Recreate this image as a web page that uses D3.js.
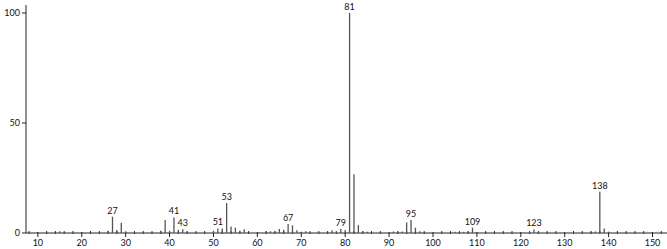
<!DOCTYPE html>
<html>
<head>
<meta charset="utf-8">
<script src="https://cdn.jsdelivr.net/npm/d3@7"></script>
<style>
  body { margin: 0; background: #fff; }
  text { font-family: "Lato", "DejaVu Sans", sans-serif; font-size: 9px; fill: #111; }
</style>
</head>
<body>
<div id="cont"></div>
<script>
// m/z values and relative intensities
var mz =        [15, 26, 27, 28, 29, 30, 38, 39, 40, 41, 42, 43, 44, 50, 51, 52, 53, 54, 55, 56, 57,
                 62, 63, 64, 65, 66, 67, 68, 69, 70, 71, 77, 78, 79, 80, 81, 82, 83, 84, 85,
                 91, 92, 93, 94, 95, 96, 97, 105, 107, 108, 109, 122, 123, 124, 136, 137, 138, 139, 140];
var intensity = [0.8, 1.0, 7.4, 1.4, 4.7, 0.8, 1.0, 5.9, 1.0, 7.1, 1.5, 1.7, 0.7, 1.0, 2.1, 2.1, 13.6, 2.9, 2.4, 1.0, 1.7,
                 0.8, 0.8, 0.8, 1.8, 1.5, 4.1, 3.5, 1.2, 0.6, 0.8, 1.3, 0.8, 1.8, 1.4, 100, 26.7, 3.6, 0.8, 0.6,
                 0.7, 0.7, 0.7, 4.8, 5.9, 2.4, 0.8, 0.6, 0.6, 0.7, 2.4, 0.5, 1.6, 0.5, 0.7, 0.7, 18.8, 2.1, 0.6];
var labelled = [27, 41, 43, 51, 53, 67, 79, 81, 95, 109, 123, 138];
var xTicks = [10, 20, 30, 40, 50, 60, 70, 80, 90, 100, 110, 120, 130, 140, 150];
var yTicks = [0, 50, 100];

var peaks = mz.map(function(m, i) { return {mz: m, v: intensity[i]}; });

var svg = d3.select("#cont").append("svg")
    .attr("width", 667)
    .attr("height", 249);

var x = d3.scaleLinear().domain([7.3, 153.3]).range([26, 667]);
var y = d3.scaleLinear().domain([0, 100]).range([233, 13]);

// x axis
svg.append("line")
    .attr("x1", x.range()[0]).attr("x2", x.range()[1])
    .attr("y1", y(0)).attr("y2", y(0))
    .attr("stroke", "#222").attr("stroke-width", 1);

var minor = d3.range(8, 154, 2).filter(function(v) { return v % 10 !== 0; });
svg.selectAll(".minor").data(minor).enter().append("line")
    .attr("class", "minor")
    .attr("x1", function(d) { return x(d); }).attr("x2", function(d) { return x(d); })
    .attr("y1", y(0) - 2).attr("y2", y(0) + 1)
    .attr("stroke", "#333");

svg.selectAll(".major").data(xTicks).enter().append("line")
    .attr("class", "major")
    .attr("x1", function(d) { return x(d); }).attr("x2", function(d) { return x(d); })
    .attr("y1", y(0) - 1).attr("y2", y(0) + 4)
    .attr("stroke", "#222");

svg.selectAll(".xlab").data(xTicks).enter().append("text")
    .attr("class", "xlab")
    .attr("x", function(d) { return x(d); })
    .attr("y", 246)
    .attr("text-anchor", "middle")
    .text(function(d) { return d; });

// y axis
svg.append("line")
    .attr("x1", 26).attr("x2", 26)
    .attr("y1", y(0)).attr("y2", 5)
    .attr("stroke", "#222");

svg.selectAll(".ytick").data(yTicks).enter().append("line")
    .attr("class", "ytick")
    .attr("x1", 22).attr("x2", 26)
    .attr("y1", function(d) { return y(d); }).attr("y2", function(d) { return y(d); })
    .attr("stroke", "#222");

svg.selectAll(".ylab").data(yTicks).enter().append("text")
    .attr("class", "ylab")
    .attr("x", 20)
    .attr("y", function(d) { return y(d) + 3; })
    .attr("text-anchor", "end")
    .text(function(d) { return d; });

// peaks
svg.selectAll(".peak").data(peaks).enter().append("line")
    .attr("class", "peak")
    .attr("x1", function(d) { return x(d.mz); }).attr("x2", function(d) { return x(d.mz); })
    .attr("y1", y(0)).attr("y2", function(d) { return y(d.v); })
    .attr("stroke", "#555").attr("stroke-width", 1.3);

svg.selectAll(".plab").data(peaks.filter(function(d) { return labelled.indexOf(d.mz) >= 0; }))
    .enter().append("text")
    .attr("class", "plab")
    .attr("x", function(d) { return x(d.mz); })
    .attr("y", function(d) { return y(d.v) - 3; })
    .attr("text-anchor", "middle")
    .text(function(d) { return d.mz; });
</script>
</body>
</html>
